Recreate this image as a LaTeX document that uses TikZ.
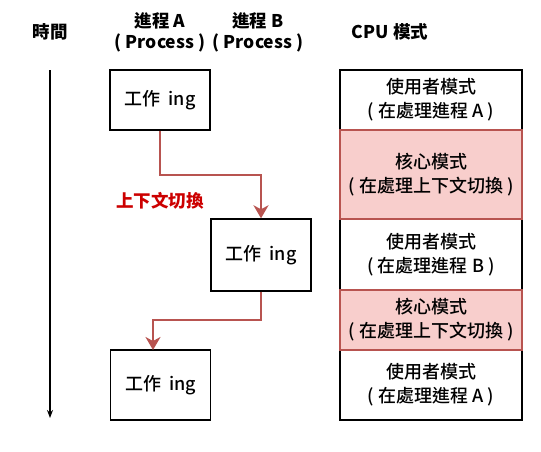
\documentclass[tikz,border=0pt]{standalone}
\usepackage{fontspec}
\setmainfont{Noto Sans CJK TC}
\newfontfamily\medfont{Noto Sans CJK TC Medium}
\usetikzlibrary{arrows.meta}
\definecolor{kernfill}{RGB}{248,206,204}
\definecolor{kernline}{RGB}{184,84,80}
\definecolor{switchred}{RGB}{204,0,0}
\tikzset{
 procbox/.style={draw,line width=1.4pt,minimum width=100pt,minimum height=60pt,inner sep=0pt,
  font=\medfont\fontsize{18}{20}\selectfont},
 userrow/.style={draw,line width=1.3pt,minimum width=182pt,inner sep=0pt,align=center,fill=white,
  font=\medfont\fontsize{18}{24}\selectfont},
 kernrow/.style={userrow,fill=kernfill,draw=kernline},
 switcharrow/.style={kernline,line width=2.4pt,-{Stealth[length=13pt,width=15pt,inset=4pt]}},
 head/.style={font=\bfseries\fontsize{17.5}{21}\selectfont,align=center}
}

\begin{document}
\begin{tikzpicture}[x=1pt,y=-1pt]
 \useasboundingbox (0,0) rectangle (541,451);
 % column headings
 \node[head] (timehead) at (50,32) {時間};
 \node[head] (prochA) at (160,32) {進程 A\\( Process )};
 \node[head] (prochB) at (258,32) {進程 B\\( Process )};
 \node[head] (cpuhead) at (390,32) {CPU 模式};
 % time axis
 \coordinate (tstart) at (50,70);
 \coordinate (tend) at (50,418);
 \draw[line width=1.6pt,-{Stealth[length=8pt,width=6pt]}] (tstart) -- (tend);
 % processes
 \node[procbox] (workA1) at (160,100) {工作\ \ ing};
 \node[procbox,minimum height=72pt] (workB) at (261,255) {工作\ \ ing};
 \node[procbox,minimum height=70pt] (workA2) at (160.5,385) {工作\ \ ing};
 % cpu modes
 \node[userrow,minimum height=60pt] (userA1) at (431,100) {使用者模式\\(\ 在處理進程\ A\ )};
 \node[userrow,minimum height=71pt] (userB) at (431,254.5) {使用者模式\\(\ 在處理進程\ B\ )};
 \node[userrow,minimum height=70pt] (userA2) at (431,385) {使用者模式\\(\ 在處理進程\ A\ )};
 \node[kernrow,minimum height=89pt] (kern1) at (431,174.5) {核心模式\\(\ 在處理上下文切換\ )};
 \node[kernrow,minimum height=60pt] (kern2) at (431,320) {核心模式\\(\ 在處理上下文切換\ )};
 % context switches
 \coordinate (bend1) at (160,175);
 \coordinate (bend2) at (261,320);
 \coordinate (enter2) at (153,350);
 \draw[switcharrow] (workA1.south) -- (bend1) -| (workB.north);
 \draw[switcharrow] (workB.south) -- (bend2) -| (enter2);
 \node[text=switchred,font=\bfseries\fontsize{17.5}{18}\selectfont] (switchlbl) at (160,201) {上下文切換};
\end{tikzpicture}
\end{document}
